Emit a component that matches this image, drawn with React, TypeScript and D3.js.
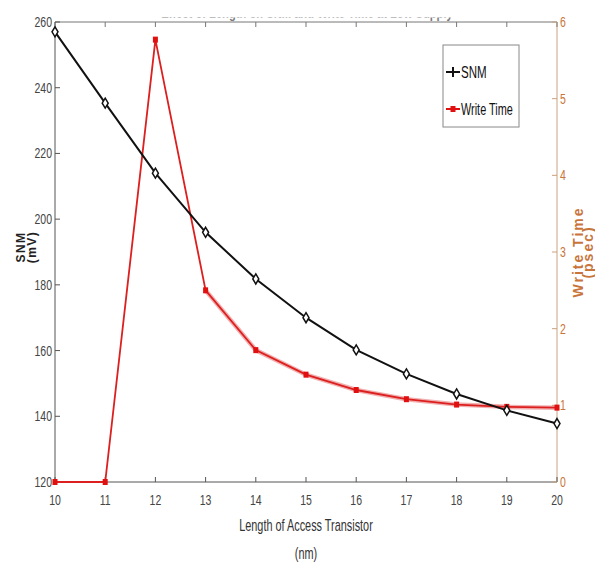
import React from "react";
import * as d3 from "d3";

const lengths = [10, 11, 12, 13, 14, 15, 16, 17, 18, 19, 20];
const snm = [257, 235.3, 214, 196, 181.8, 170, 160.2, 152.9, 146.8, 141.8, 137.8];
const writeTime = [0, 0, 5.77, 2.5, 1.72, 1.4, 1.2, 1.08, 1.01, 0.98, 0.97];
const leftTicks = [120, 140, 160, 180, 200, 220, 240, 260];
const rightTicks = [0, 1, 2, 3, 4, 5, 6];

const W = 595, H = 565;
const L = 55, R = 557, T = 22, B = 482;
const FONT = "'Liberation Sans', Arial, sans-serif";
const ORANGE = "#c8743a";

function CText(props: { x: number; y: number; sx?: number; size?: number; anchor?: string; fill?: string; weight?: string; children: React.ReactNode }) {
  const { x, y, sx = 0.7, size = 15, anchor = "start", fill = "#444", weight = "normal", children } = props;
  return (
    <text transform={`translate(${x},${y}) scale(${sx},1)`} textAnchor={anchor} fontFamily={FONT} fontSize={size} fill={fill} fontWeight={weight}>
      {children}
    </text>
  );
}

export default function App() {
  const x = d3.scaleLinear().domain([10, 20]).range([L, R]);
  const yL = d3.scaleLinear().domain([120, 260]).range([B, T]);
  const yR = d3.scaleLinear().domain([0, 6]).range([B, T]);
  const lineS = d3.line<number>().x((_, i) => x(lengths[i])).y((d) => yL(d));
  const lineW = d3.line<number>().x((_, i) => x(lengths[i])).y((d) => yR(d));
  const lineWTail = d3.line<number>().x((_, i) => x(lengths[i + 3])).y((d) => yR(d));
  const tk = 5;
  return (
    <svg width={W} height={H} style={{ position: "absolute", left: 0, top: 0, background: "#fff" }}>
      <defs>
        <clipPath id="titleclip">
          <rect x={0} y={17.5} width={W} height={3.5} />
        </clipPath>
      </defs>
      {/* partially hidden title */}
      <g clipPath="url(#titleclip)" opacity={0.6}>
        <CText x={307} y={18} size={14} anchor="middle" fill="#222" weight="bold" sx={0.8}>
          Effect of Length on SNM and Write Time at Low Supply
        </CText>
      </g>
      {/* frame */}
      <line x1={L} y1={T} x2={R} y2={T} stroke="#777" strokeWidth={1} />
      <line x1={L} y1={B} x2={R} y2={B} stroke="#555" strokeWidth={1} />
      <line x1={L} y1={T} x2={L} y2={B} stroke="#555" strokeWidth={1} />
      <line x1={R} y1={T} x2={R} y2={B} stroke="#c9a27e" strokeWidth={1} />
      {/* x ticks */}
      {lengths.map((v) => (
        <g key={"x" + v}>
          <line x1={x(v)} x2={x(v)} y1={B} y2={B - tk} stroke="#555" />
          <line x1={x(v)} x2={x(v)} y1={T} y2={T + tk} stroke="#777" />
          <CText x={x(v)} y={505} anchor="middle">{v}</CText>
        </g>
      ))}
      {/* left ticks */}
      {leftTicks.map((v) => (
        <g key={"l" + v}>
          <line x1={L} x2={L + tk} y1={yL(v)} y2={yL(v)} stroke="#555" />
          <CText x={L - 3} y={yL(v) + 5} anchor="end">{v}</CText>
        </g>
      ))}
      {/* right ticks */}
      {rightTicks.map((v) => (
        <g key={"r" + v}>
          <line x1={R} x2={R - tk} y1={yR(v)} y2={yR(v)} stroke="#c9a27e" />
          <CText x={R + 3} y={yR(v) + 5} fill={ORANGE}>{v}</CText>
        </g>
      ))}
      {/* axis labels */}
      <text transform={`translate(25,247) rotate(-90)`} textAnchor="middle" fontFamily={FONT} fontWeight="bold" fontSize={12} letterSpacing={1.5} fill="#222">
        <tspan x={0} dy={0}>SNM</tspan>
        <tspan x={0} dy={11}>(mV)</tspan>
      </text>
      <text transform={`translate(583,252) rotate(-90)`} textAnchor="middle" fontFamily={FONT} fontWeight="bold" fontSize={14} letterSpacing={2} fill={ORANGE}>
        <tspan x={0} dy={0}>Write Time</tspan>
        <tspan x={0} dy={10}>(psec)</tspan>
      </text>
      <CText x={306} y={531} anchor="middle" size={17} sx={0.64} fill="#333">Length of Access Transistor</CText>
      <CText x={306} y={559} anchor="middle" size={17} sx={0.64} fill="#333">(nm)</CText>
      {/* write time series */}
      <path d={lineWTail(writeTime.slice(3)) || ""} fill="none" stroke="#e87a7a" strokeOpacity={0.6} strokeWidth={4.5} />
      <path d={lineW(writeTime) || ""} fill="none" stroke="#dc1f1f" strokeWidth={1.8} />
      {writeTime.map((v, i) => (
        <rect key={"w" + i} x={x(lengths[i]) - 2.5} y={yR(v) - 3} width={5} height={6} fill="#e01010" />
      ))}
      {/* snm series */}
      <path d={lineS(snm) || ""} fill="none" stroke="#111" strokeWidth={2} />
      {snm.map((v, i) => {
        const cx = x(lengths[i]), cy = yL(v);
        return (
          <path key={"s" + i} d={`M${cx},${cy - 5}L${cx + 3},${cy}L${cx},${cy + 5}L${cx - 3},${cy}Z`} fill="#fff" stroke="#111" strokeWidth={1.5} />
        );
      })}
      {/* legend */}
      <rect x={443} y={45} width={76} height={82} fill="#fff" stroke="#888" strokeWidth={1} />
      <line x1={446} x2={460} y1={72} y2={72} stroke="#111" strokeWidth={2} />
      <line x1={453} x2={453} y1={67} y2={77} stroke="#111" strokeWidth={2} />
      <CText x={461} y={78} size={17} fill="#111" sx={0.68}>SNM</CText>
      <line x1={446} x2={460} y1={109} y2={109} stroke="#e01010" strokeWidth={2} />
      <rect x={450.5} y={106} width={5} height={6} fill="#e01010" />
      <CText x={461} y={115} size={17} fill="#111" sx={0.64}>Write Time</CText>
    </svg>
  );
}
